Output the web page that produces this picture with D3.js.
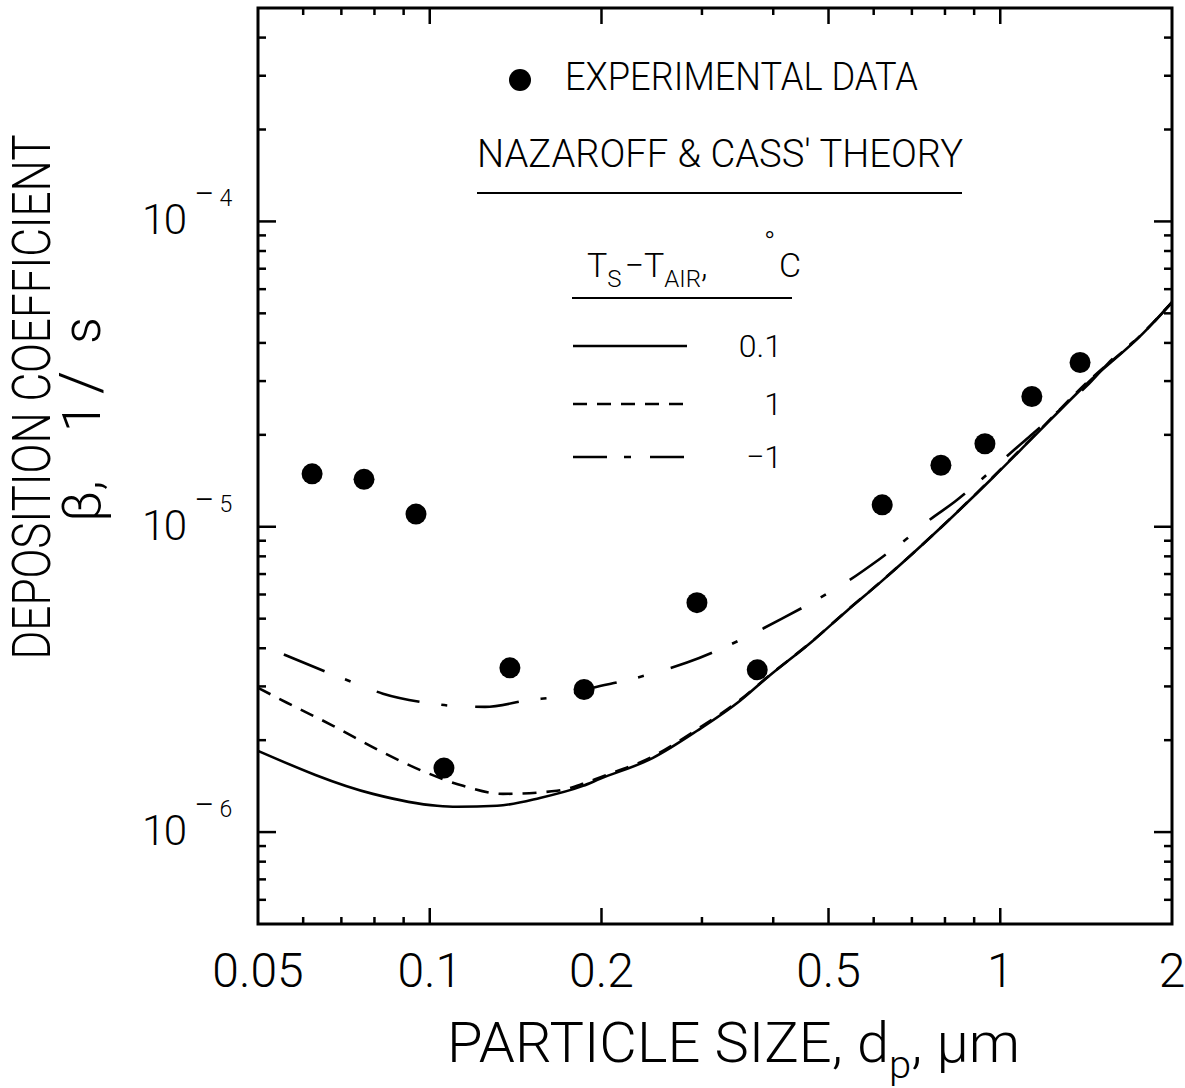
<!DOCTYPE html>
<html><head><meta charset="utf-8">
<script src="https://cdn.jsdelivr.net/npm/d3@7"></script>
<style>
body{margin:0;background:#fff}
svg{display:block}
text{font-family:Roboto,"Open Sans","Liberation Sans",sans-serif;font-weight:300;fill:#000}
</style>
</head><body>
<svg id="chart" width="1185" height="1088"></svg>
<script>
// ---- data ----
const expSize = [0.0622, 0.0767, 0.0946, 0.1059, 0.1382, 0.1864, 0.294, 0.375, 0.621, 0.787, 0.940, 1.136, 1.380];
const expBeta = [1.49e-5, 1.43e-5, 1.10e-5, 1.62e-6, 3.45e-6, 2.93e-6, 5.64e-6, 3.40e-6, 1.18e-5, 1.59e-5, 1.87e-5, 2.67e-5, 3.45e-5];

const size01 = [0.05, 0.0795, 0.1030, 0.1116, 0.1312, 0.1560, 0.1856, 0.1988, 0.2462, 0.2942, 0.3499, 0.3900, 0.4696, 0.5388, 0.6156, 0.7939, 0.9711, 1.1414, 1.4197, 1.779, 2];
const beta01 = [1.845e-6, 1.334e-6, 1.219e-6, 1.210e-6, 1.219e-6, 1.294e-6, 1.417e-6, 1.494e-6, 1.750e-6, 2.147e-6, 2.692e-6, 3.202e-6, 4.234e-6, 5.311e-6, 6.561e-6, 1.009e-5, 1.450e-5, 1.961e-5, 2.947e-5, 4.298e-5, 5.433e-5];

const size1 = [0.05, 0.0562, 0.0677, 0.0818, 0.0989, 0.1144, 0.1344, 0.1671, 0.1856, 0.1988, 0.2462, 0.2942, 0.3499, 0.3900, 0.4696, 0.5388, 0.6156, 0.7939, 0.9711, 1.1414, 1.4197, 1.779, 2];
const beta1 = [2.969e-6, 2.652e-6, 2.229e-6, 1.845e-6, 1.563e-6, 1.417e-6, 1.334e-6, 1.365e-6, 1.439e-6, 1.51e-6, 1.77e-6, 2.17e-6, 2.71e-6, 3.21e-6, 4.24e-6, 5.32e-6, 6.57e-6, 1.01e-5, 1.455e-5, 1.97e-5, 2.97e-5, 4.31e-5, 5.44e-5];

const sizeM1 = [0.05, 0.0562, 0.0663, 0.0734, 0.0828, 0.0989, 0.1098, 0.1250, 0.1499, 0.1671, 0.1933, 0.2244, 0.2512, 0.2824, 0.3333, 0.3716, 0.4143, 0.4871, 0.5388, 0.6156, 0.6864, 0.7533, 0.8331, 0.9520, 1.0402, 1.1414, 1.2985, 1.4197, 1.545, 1.779, 2];
const betaM1 = [4.14e-6, 3.78e-6, 3.33e-6, 3.09e-6, 2.84e-6, 2.65e-6, 2.59e-6, 2.57e-6, 2.71e-6, 2.77e-6, 2.97e-6, 3.16e-6, 3.35e-6, 3.59e-6, 4.08e-6, 4.50e-6, 5.00e-6, 5.90e-6, 6.61e-6, 7.86e-6, 9.15e-6, 1.056e-5, 1.209e-5, 1.494e-5, 1.738e-5, 2.02e-5, 2.50e-5, 2.90e-5, 3.43e-5, 4.30e-5, 5.43e-5];

const xTickValues = [0.06, 0.07, 0.08, 0.09, 0.1, 0.2, 0.3, 0.4, 0.5, 0.6, 0.7, 0.8, 0.9, 1];
const xMajorValues = [0.1, 0.2, 0.5, 1];
const xLabelValues = [0.05, 0.1, 0.2, 0.5, 1, 2];
const xLabelTexts = ["0.05", "0.1", "0.2", "0.5", "1", "2"];
const yDecades = [1e-6, 1e-5, 1e-4];
const yDecadeExps = ["6", "5", "4"];
const legendLabels = ["0.1", "1", "−1"];

// ---- layout ----
const svg = d3.select("#chart");
const L = 258, R = 1172, T = 8, B = 924;
const x = d3.scaleLog().domain([0.05, 2]).range([L, R]);
const y = d3.scaleLog().domain([5e-7, 5e-4]).range([B, T]);

svg.append("defs").append("clipPath").attr("id", "clip")
  .append("rect").attr("x", L).attr("y", T).attr("width", R - L).attr("height", B - T);

// ticks
const yTicks = [];
for (let e = -7; e <= -4; e++) for (let m = 1; m <= 9; m++) {
  const v = m * Math.pow(10, e);
  if (v > 5e-7 * 1.0001 && v < 5e-4 * 0.9999) yTicks.push({v, major: m === 1});
}
const g = svg.append("g").attr("stroke", "#000").attr("stroke-width", 2.5);
yTicks.forEach(t => {
  const len = t.major ? 18 : 8;
  g.append("line").attr("x1", L).attr("x2", L + len).attr("y1", y(t.v)).attr("y2", y(t.v));
  g.append("line").attr("x1", R).attr("x2", R - len).attr("y1", y(t.v)).attr("y2", y(t.v));
});
xTickValues.forEach(v => {
  const len = xMajorValues.includes(v) ? 16 : 7;
  g.append("line").attr("x1", x(v)).attr("x2", x(v)).attr("y1", B).attr("y2", B - len);
  g.append("line").attr("x1", x(v)).attr("x2", x(v)).attr("y1", T).attr("y2", T + len);
});
svg.append("rect").attr("x", L).attr("y", T).attr("width", R - L).attr("height", B - T)
  .attr("fill", "none").attr("stroke", "#000").attr("stroke-width", 3);

// x tick labels
xLabelValues.forEach((v, i) => {
  svg.append("text").attr("x", x(v)).attr("y", 987).attr("text-anchor", "middle")
    .attr("font-size", 48).text(xLabelTexts[i]);
});
// y tick labels
yDecades.forEach((v, i) => {
  svg.append("text").attr("x", 142).attr("y", y(v) + 13).attr("font-size", 42)
    .attr("textLength", 45).attr("lengthAdjust", "spacing").text("10");
  const sup = svg.append("text").attr("x", 194).attr("y", y(v) - 15);
  sup.append("tspan").attr("font-size", 36).text("−");
  sup.append("tspan").attr("font-size", 23).attr("dx", 5).text(yDecadeExps[i]);
});

// axis titles
const xt = svg.append("text").attr("x", 447).attr("y", 1062).attr("font-size", 55)
  .attr("textLength", 573).attr("lengthAdjust", "spacingAndGlyphs");
xt.append("tspan").text("PARTICLE SIZE, d");
xt.append("tspan").attr("font-size", 38).attr("dy", 16).text("p");
xt.append("tspan").attr("dy", -16).text(", μm");

svg.append("text").attr("transform", "translate(50,397) rotate(-90)").attr("text-anchor", "middle")
  .attr("font-size", 53).attr("textLength", 525).attr("lengthAdjust", "spacingAndGlyphs")
  .text("DEPOSITION COEFFICIENT");
const yt2 = svg.append("text").attr("transform", "translate(100,522) rotate(-90)")
  .attr("font-size", 53);
yt2.append("tspan").attr("x", 0).text("β,");
yt2.append("tspan").attr("x", 90).text("1");
yt2.append("tspan").attr("x", 128).attr("font-size", 58).text("/");
yt2.append("tspan").attr("x", 178).text("s");

// curves
const line = d3.line().x(d => x(d[0])).y(d => y(d[1])).curve(d3.curveMonotoneX);
const plot = svg.append("g").attr("clip-path", "url(#clip)");
plot.append("path").datum(d3.zip(size01, beta01)).attr("d", line)
  .attr("fill", "none").attr("stroke", "#000").attr("stroke-width", 2.6);
plot.append("path").datum(d3.zip(size1, beta1)).attr("d", line)
  .attr("fill", "none").attr("stroke", "#000").attr("stroke-width", 2.6)
  .attr("stroke-dasharray", "14,10");
plot.append("path").datum(d3.zip(sizeM1, betaM1)).attr("d", line)
  .attr("fill", "none").attr("stroke", "#000").attr("stroke-width", 2.6)
  .attr("stroke-dasharray", "44,22,6,28").attr("stroke-dashoffset", 72);

// experimental points
plot.selectAll("circle.exp").data(d3.zip(expSize, expBeta)).enter().append("circle")
  .attr("class", "exp").attr("cx", d => x(d[0])).attr("cy", d => y(d[1])).attr("r", 10.5)
  .attr("fill", "#000");

// legend
svg.append("circle").attr("cx", 520).attr("cy", 80).attr("r", 11).attr("fill", "#000");
svg.append("text").attr("x", 565).attr("y", 90).attr("font-size", 38)
  .attr("textLength", 353).attr("lengthAdjust", "spacingAndGlyphs").text("EXPERIMENTAL DATA");
svg.append("text").attr("x", 477).attr("y", 167).attr("font-size", 38)
  .attr("textLength", 486).attr("lengthAdjust", "spacingAndGlyphs").text("NAZAROFF & CASS' THEORY");
svg.append("line").attr("x1", 477).attr("x2", 962).attr("y1", 193).attr("y2", 193)
  .attr("stroke", "#000").attr("stroke-width", 2);

const hd = svg.append("text").attr("x", 587).attr("y", 277).attr("font-size", 34);
hd.append("tspan").text("T");
hd.append("tspan").attr("font-size", 24).attr("dy", 10).text("S");
hd.append("tspan").attr("dy", -10).attr("dx", 3).text("−T");
hd.append("tspan").attr("font-size", 24).attr("dy", 10).text("AIR");
hd.append("tspan").attr("dy", -10).text(",");
svg.append("text").attr("x", 764).attr("y", 252).attr("font-size", 30).text("°");
svg.append("text").attr("x", 779).attr("y", 277).attr("font-size", 34).text("C");
svg.append("line").attr("x1", 572).attr("x2", 792).attr("y1", 298).attr("y2", 298)
  .attr("stroke", "#000").attr("stroke-width", 2);

const legY = [346, 404, 457];
const legDash = [null, "14,10", "34,17,7,19"];
legY.forEach((ly, i) => {
  const l = svg.append("line").attr("x1", 573).attr("x2", 687).attr("y1", ly).attr("y2", ly)
    .attr("stroke", "#000").attr("stroke-width", 2.4);
  if (legDash[i]) l.attr("stroke-dasharray", legDash[i]);
  svg.append("text").attr("x", 782).attr("y", ly + 11).attr("text-anchor", "end")
    .attr("font-size", 32).text(legendLabels[i]);
});
</script>
</body></html>
